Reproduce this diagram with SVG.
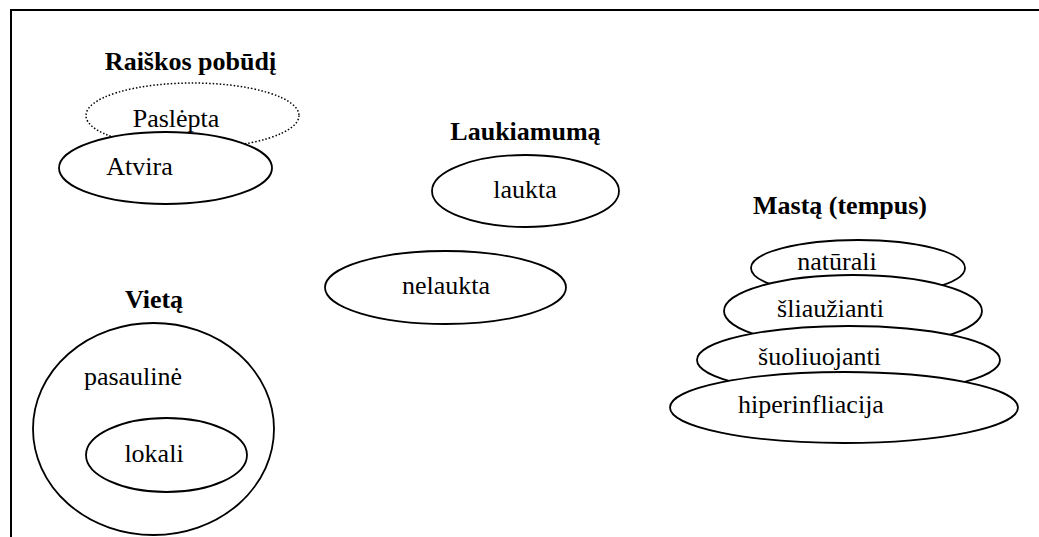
<svg xmlns="http://www.w3.org/2000/svg" width="1039" height="537" viewBox="0 0 1039 537">
<style>
text{font-family:"Liberation Serif","Times New Roman",serif;font-size:26px;fill:#000;text-anchor:middle}
.h{font-weight:bold}
.e{fill:#fff;stroke:#000;stroke-width:1.8}
.d{fill:none;stroke:#000;stroke-width:1.5;stroke-dasharray:1.5 2}
</style>
<rect width="1039" height="537" fill="#fff"/>
<path d="M11,537 V10 H1039" fill="none" stroke="#000" stroke-width="2"/>
<g id="raiskos">
<text class="h" x="190.5" y="70">Raiškos pobūdį</text>
<g id="paslepta"><ellipse class="d" cx="192.5" cy="115.5" rx="106.5" ry="32.5"/><text x="176" y="127">Paslėpta</text></g>
<g id="atvira"><ellipse class="e" cx="165.5" cy="168" rx="106.5" ry="36"/><text x="139.5" y="175">Atvira</text></g>
</g>
<g id="laukiamuma">
<text class="h" x="525.5" y="140">Laukiamumą</text>
<g id="laukta"><ellipse class="e" cx="525.5" cy="191" rx="93.5" ry="36"/><text x="525" y="198">laukta</text></g>
<g id="nelaukta"><ellipse class="e" cx="445.5" cy="287.5" rx="120.5" ry="36.5"/><text x="446" y="294">nelaukta</text></g>
</g>
<g id="masta">
<text class="h" x="840" y="214">Mastą (tempus)</text>
<g id="naturali"><ellipse class="e" cx="858" cy="268" rx="107" ry="28"/><text x="837" y="270">natūrali</text></g>
<g id="sliauzianti"><ellipse class="e" cx="853" cy="311" rx="129" ry="36"/><text x="830.5" y="317">šliaužianti</text></g>
<g id="suoliuojanti"><ellipse class="e" cx="848.5" cy="360" rx="151.5" ry="34"/><text x="819.5" y="365">šuoliuojanti</text></g>
<g id="hiperinfliacija"><ellipse class="e" cx="844" cy="407.5" rx="174" ry="35.5"/><text x="811" y="413">hiperinfliacija</text></g>
</g>
<g id="vieta">
<text class="h" x="154" y="308">Vietą</text>
<g id="pasauline"><ellipse class="e" cx="153.5" cy="429" rx="120.5" ry="106"/><text x="133" y="385">pasaulinė</text></g>
<g id="lokali"><ellipse class="e" cx="166.5" cy="455" rx="80.5" ry="37"/><text x="154" y="462">lokali</text></g>
</g>
<g id="connectors"/>
</svg>
